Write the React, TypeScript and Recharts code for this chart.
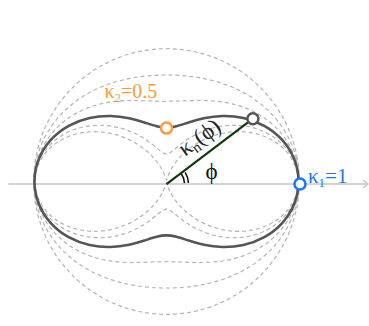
import React from 'react';
import { ComposedChart, Line, XAxis, YAxis, ReferenceLine, ReferenceDot } from 'recharts';

// angles (deg) of the quarter that was read off the figure; the other three
// quarters follow from the symmetry of kn(phi) about both axes
const ANGLES = [0, 10, 20, 30, 40, 50, 60, 70, 80, 90];

// radius kn(phi) read along each ray, one list per dashed guide curve
const GUIDE_A = [1, 1, 1, 1, 1, 1, 1, 1, 1, 1];
const GUIDE_B = [1, 0.994, 0.977, 0.95, 0.917, 0.883, 0.85, 0.823, 0.806, 0.8];
const GUIDE_C = [1, 0.988, 0.953, 0.9, 0.835, 0.765, 0.7, 0.647, 0.612, 0.6];
const GUIDE_D = [1, 0.976, 0.906, 0.8, 0.669, 0.531, 0.4, 0.294, 0.224, 0.2];
const GUIDE_E = [1, 0.97, 0.883, 0.75, 0.587, 0.413, 0.25, 0.117, 0.03, 0];
// the solid curve
const MAIN = [1, 0.982, 0.93, 0.85, 0.752, 0.648, 0.55, 0.47, 0.418, 0.4];

const K1 = 1;
const K2 = 0.5;
const PHI = 36;
const KN_PHI = 0.8;

// the drawn axes sit a little below the centre of the curves in the figure
const AXIS_LEVEL = -0.019;
const AXIS_X = [-1.185, 1.51];
const AXIS_Y = [-1.09, 1.34];

const toLoop = (quarter: number[]) => {
  const pts = [];
  for (let a = 0; a < 360; a += 10) {
    let b = a % 180;
    if (b > 90) b = 180 - b;
    const r = quarter[ANGLES.indexOf(b)];
    const t = (a * Math.PI) / 180;
    pts.push({ x: r * Math.cos(t), y: r * Math.sin(t) });
  }
  return pts;
};

const guides = [GUIDE_A, GUIDE_B, GUIDE_C, GUIDE_D, GUIDE_E].map(toLoop);
const mainLoop = toLoop(MAIN);
const phiRad = (PHI * Math.PI) / 180;
const tip = { x: KN_PHI * Math.cos(phiRad), y: KN_PHI * Math.sin(phiRad) };

const serif = 'Liberation Serif, DejaVu Serif, serif';

const arrowRight = (p: any) => (
  <g>
    <line x1={p.x1} y1={p.y1} x2={p.x2} y2={p.y2} stroke="#c4c4c4" strokeWidth={1.5} />
    <path d={`M${p.x2 - 5},${p.y2 - 4}L${p.x2},${p.y2}L${p.x2 - 5},${p.y2 + 4}`} fill="none" stroke="#c4c4c4" strokeWidth={1.2} />
  </g>
);

const arrowUp = (p: any) => (
  <g>
    <line x1={p.x1} y1={p.y1} x2={p.x2} y2={p.y2 + 4} stroke="#c4c4c4" strokeWidth={1.5} />
    <path d={`M${p.x2 - 3},${p.y2 + 10}L${p.x2},${p.y2}L${p.x2 + 3},${p.y2 + 10}Z`} fill="#c4c4c4" />
  </g>
);

const arc = (cx: number, cy: number, r: number, a0: number, a1: number) => {
  const p0 = [cx + r * Math.cos((a0 * Math.PI) / 180), cy - r * Math.sin((a0 * Math.PI) / 180)];
  const p1 = [cx + r * Math.cos((a1 * Math.PI) / 180), cy - r * Math.sin((a1 * Math.PI) / 180)];
  return `M${p0[0]},${p0[1]}A${r},${r} 0 0 0 ${p1[0]},${p1[1]}`;
};

const originMarks = (p: any) => (
  <g>
    <path d={arc(p.cx, p.cy, 18, 3, 34)} fill="none" stroke="#111" strokeWidth={1.6} />
    <path d={arc(p.cx, p.cy, 22, 3, 32)} fill="none" stroke="#111" strokeWidth={1.6} />
    <text x={p.cx + 45} y={p.cy - 5} fontFamily={serif} fontSize={23} fill="#111" textAnchor="middle">ϕ</text>
    <g transform={`translate(${p.cx + 0.809 * 54 - 0.588 * 18},${p.cy - 0.588 * 54 - 0.809 * 18}) rotate(${-PHI})`}>
      <text x={0} y={7} fontFamily={serif} fontSize={23} fill="#222" textAnchor="middle">
        κ<tspan fontSize={15} dy={4}>n</tspan><tspan dy={-4}>(ϕ)</tspan>
      </text>
    </g>
  </g>
);

const ring = (color: string) => (p: any) => (
  <circle cx={p.cx} cy={p.cy} r={5.5} fill="#fff" stroke={color} strokeWidth={2.5} />
);

const k2Dot = (p: any) => (
  <g>
    <circle cx={p.cx} cy={p.cy} r={5.5} fill="#fff" stroke="#ff9a38" strokeWidth={2.5} />
    <text x={p.cx - 62} y={p.cy - 30} fontFamily={serif} fontSize={20} fill="#ff9a38">
      κ<tspan fontSize={13} dy={4}>2</tspan><tspan dy={-4}>={K2}</tspan>
    </text>
  </g>
);

const k1Dot = (p: any) => (
  <g>
    <circle cx={p.cx} cy={p.cy} r={5.5} fill="#fff" stroke="#1a76ff" strokeWidth={2.5} />
    <text x={p.cx + 8} y={p.cy - 1} fontFamily={serif} fontSize={21} fill="#1a76ff">
      κ<tspan fontSize={13} dy={4}>1</tspan><tspan dy={-4}>={K1}</tspan>
    </text>
  </g>
);

export default function App() {
  return (
    <div style={{ position: 'absolute', left: 0, top: 0 }}>
      <ComposedChart width={369} height={326} margin={{ top: 0, right: 0, bottom: 0, left: 0 }}>
        <XAxis type="number" dataKey="x" domain={[-1.2472, 1.5169]} allowDataOverflow hide />
        <YAxis type="number" dataKey="y" domain={[-1.0824, 1.3596]} allowDataOverflow hide />
        <ReferenceLine segment={[{ x: AXIS_X[0], y: AXIS_LEVEL }, { x: AXIS_X[1], y: AXIS_LEVEL }]} shape={arrowRight} />
        <ReferenceLine segment={[{ x: 0, y: AXIS_Y[0] }, { x: 0, y: AXIS_Y[1] }]} shape={arrowUp} />
        {guides.map((g, i) => (
          <Line
            key={i}
            data={g}
            dataKey="y"
            type="basisClosed"
            stroke="#b4b4b4"
            strokeWidth={1.2}
            strokeDasharray="4 3"
            dot={false}
            activeDot={false}
            isAnimationActive={false}
          />
        ))}
        <ReferenceLine segment={[{ x: 0, y: AXIS_LEVEL }, tip]} stroke="#0b3b0b" strokeWidth={2.2} />
        <Line
          data={mainLoop}
          dataKey="y"
          type="basisClosed"
          stroke="#555"
          strokeWidth={2.6}
          strokeLinejoin="round"
          dot={false}
          activeDot={false}
          isAnimationActive={false}
        />
        <ReferenceDot x={0} y={AXIS_LEVEL} r={0} shape={originMarks} />
        <ReferenceDot x={tip.x} y={tip.y} r={5} shape={ring('#555')} />
        <ReferenceDot x={0} y={MAIN[MAIN.length - 1]} r={5} shape={k2Dot} />
        <ReferenceDot x={K1} y={AXIS_LEVEL} r={5} shape={k1Dot} />
      </ComposedChart>
    </div>
  );
}
